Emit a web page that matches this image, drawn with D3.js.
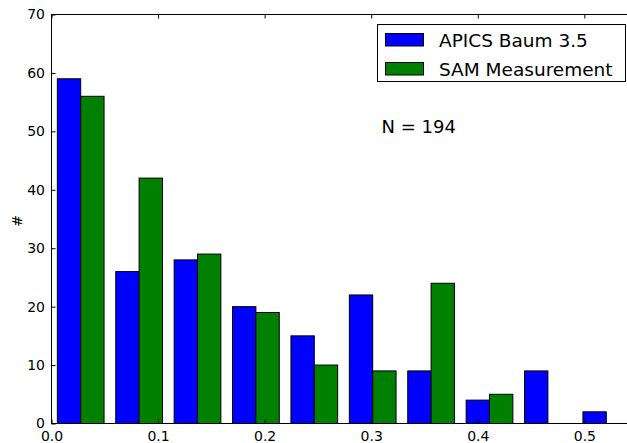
<!DOCTYPE html>
<html>
<head>
<meta charset="utf-8">
<script src="https://cdn.jsdelivr.net/npm/d3@7"></script>
<style>
  html, body { margin: 0; padding: 0; background: #fff; overflow: hidden; }
  text { font-family: "DejaVu Sans", sans-serif; fill: #000; }
</style>
</head>
<body>
<svg id="chart" width="627" height="443"></svg>
<script>
// Histogram bin edges (10 equal bins) and counts per series
const binWidth = 0.0548;
const binStarts = [0, 1, 2, 3, 4, 5, 6, 7, 8, 9].map(i => i * binWidth);
const apicsCounts = [59, 26, 28, 20, 15, 22, 9, 4, 9, 2];
const samCounts = [56, 42, 29, 19, 10, 9, 24, 5, 0, 0];
const seriesNames = ["APICS Baum 3.5", "SAM Measurement"];
const seriesColors = ["#0000ff", "#008000"];
const xTicks = [0.0, 0.1, 0.2, 0.3, 0.4, 0.5];
const yTicks = [0, 10, 20, 30, 40, 50, 60, 70];
const annotation = "N = 194";

const svg = d3.select("#chart");
const plotLeft = 51.5, plotRight = 635.5, plotTop = 14.5, plotBottom = 423.5;

const x = d3.scaleLinear().domain([0, binWidth * 10]).range([plotLeft, plotRight]);
const y = d3.scaleLinear().domain([0, 70]).range([plotBottom, plotTop]);

// Bars: each bin holds two side-by-side bars occupying 80% of the bin
const series = [apicsCounts, samCounts];
series.forEach((vals, s) => {
  svg.append("g")
    .selectAll("rect")
    .data(vals.map((v, i) => ({ v, x0: binStarts[i] })).filter(d => d.v > 0))
    .join("rect")
    .attr("x", d => x(d.x0 + binWidth * (0.1 + 0.4 * s)))
    .attr("width", d => x(d.x0 + binWidth * 0.4) - x(d.x0))
    .attr("y", d => y(d.v))
    .attr("height", d => y(0) - y(d.v))
    .attr("fill", seriesColors[s])
    .attr("stroke", "#000")
    .attr("stroke-width", 1);
});

// Frame
svg.append("rect")
  .attr("x", plotLeft).attr("y", plotTop)
  .attr("width", plotRight - plotLeft).attr("height", plotBottom - plotTop)
  .attr("fill", "none").attr("stroke", "#000").attr("stroke-width", 1);

// Axes with inward ticks
const fmt = d3.format(".1f");
const xAxisB = d3.axisBottom(x).tickValues(xTicks).tickFormat(fmt).tickSizeInner(-4).tickSizeOuter(0).tickPadding(8);
const xAxisT = d3.axisTop(x).tickValues(xTicks).tickFormat("").tickSizeInner(-4).tickSizeOuter(0);
const yAxisL = d3.axisLeft(y).tickValues(yTicks).tickFormat(d3.format("d")).tickSizeInner(-4).tickSizeOuter(0).tickPadding(6.5);

function style(g) {
  g.select(".domain").remove();
  g.selectAll("line").attr("stroke", "#000");
  g.selectAll("text").attr("font-size", 14).attr("font-family", "DejaVu Sans, sans-serif").attr("fill", "#000");
}
svg.append("g").attr("transform", `translate(0,${plotBottom})`).call(xAxisB).call(style);
svg.append("g").attr("transform", `translate(0,${plotTop})`).call(xAxisT).call(style);
svg.append("g").attr("transform", `translate(${plotLeft},0)`).call(yAxisL).call(style);

// Y axis label
svg.append("text")
  .attr("transform", "translate(22,221) rotate(-90)")
  .attr("text-anchor", "middle")
  .attr("font-size", 14)
  .text("#");

// Legend
const lg = svg.append("g");
lg.append("rect")
  .attr("x", 377.5).attr("y", 24.5).attr("width", 248).attr("height", 57)
  .attr("fill", "#fff").attr("stroke", "#000").attr("stroke-width", 1);
seriesNames.forEach((name, i) => {
  const cy = 40 + i * 29;
  lg.append("rect")
    .attr("x", 385.5).attr("y", cy - 6.5).attr("width", 38).attr("height", 12.5)
    .attr("fill", seriesColors[i]).attr("stroke", "#000").attr("stroke-width", 1);
  lg.append("text")
    .attr("x", 439).attr("y", cy + 7)
    .attr("font-size", 18.5)
    .text(name);
});

// Sample size annotation
svg.append("text")
  .attr("x", 381.5).attr("y", 132.5)
  .attr("font-size", 18)
  .text(annotation);
</script>
</body>
</html>
